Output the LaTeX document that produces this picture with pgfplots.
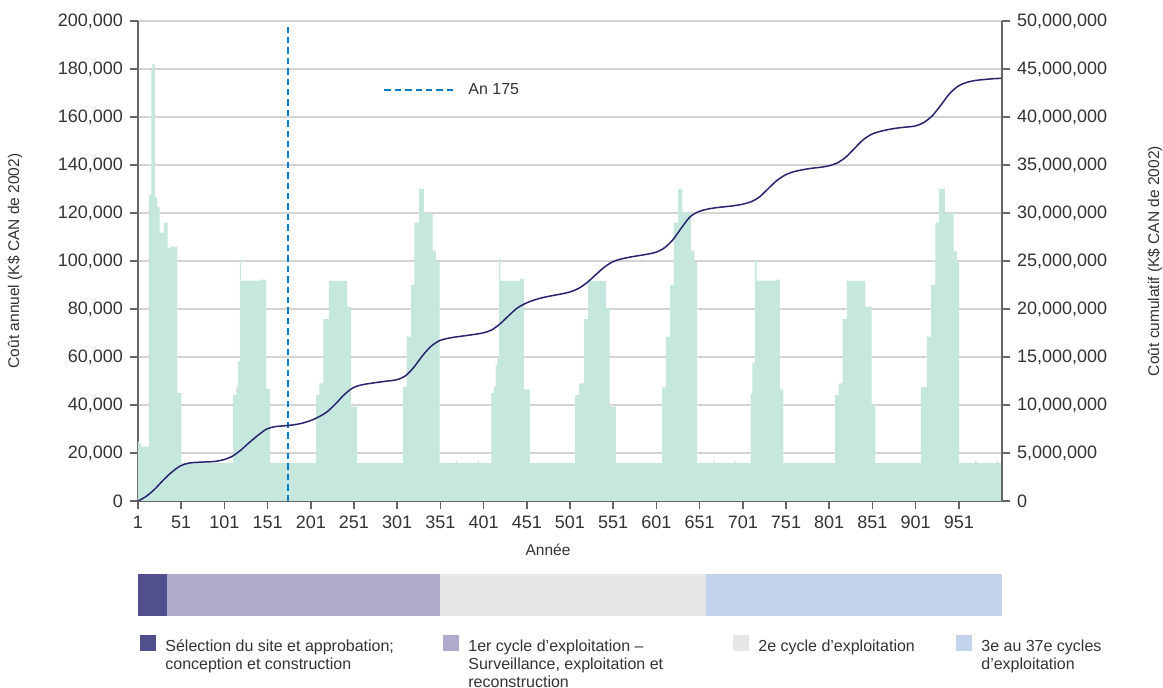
\documentclass[border=0pt]{standalone}
\usepackage{pgfplots}
\pgfplotsset{compat=1.18}
\usepackage{fontspec}
\setmainfont{Liberation Sans}
\definecolor{barc}{HTML}{C6E7DD}
\definecolor{cumc}{HTML}{27246E}
\definecolor{dashc}{HTML}{0B7DC8}
\definecolor{txt}{HTML}{333333}
\definecolor{axc}{HTML}{666666}
\definecolor{gridc}{HTML}{D4D4D4}
\definecolor{ph1}{HTML}{514F8E}
\definecolor{ph2}{HTML}{AEABCD}
\definecolor{ph3}{HTML}{E6E7E8}
\definecolor{ph4}{HTML}{C3D3EC}
\begin{document}
\begin{tikzpicture}
\useasboundingbox (-69pt,-93.5pt) rectangle (512.5pt,250.5pt);
\pgfplotsset{
  common/.style={
    width=432pt, height=240pt, scale only axis,
    xmin=1, xmax=1001,
    tick align=outside,
    major tick length=4pt,
    axis line style={axc, line width=0.75pt},
    tick style={axc, line width=0.75pt},
    ticklabel style={font=\fontsize{9}{10}\selectfont, text=txt},
    /pgf/number format/assume math mode=true,
    label style={font=\fontsize{7.75}{9}\selectfont, text=txt},
    scaled y ticks=false,
    yticklabel style={/pgf/number format/.cd, fixed, precision=0, 1000 sep={,}},
  }
}
\begin{axis}[common,
  at={(0pt,0pt)}, anchor=south west,
  ymin=0, ymax=200000,
  axis x line*=bottom, axis y line*=left,
  xtick={1,51,...,951},
  ytick={0,20000,...,200000},
  ymajorgrids, grid style={gridc, line width=0.8pt},
  xlabel={Année}, ylabel={Coût annuel (K\$ CAN de 2002)},
  xlabel style={at={(axis description cs:0.4745,-0.102)}, anchor=center},
  ylabel style={at={(axis description cs:-0.1424,0.5)}, anchor=center},
  legend style={at={(0.2836,0.856)}, anchor=west, draw=none, fill=none,
    inner sep=0pt, nodes={inner sep=0pt}, font=\fontsize{8}{9}\selectfont, text=txt,
    /tikz/every odd column/.append style={column sep=7pt}},
  legend image code/.code={\draw[#1] (0pt,0pt) -- (34.5pt,0pt);},
]
\addplot[const plot, fill=barc, draw=none, forget plot] coordinates {
(1,24700) (2.5,24000) (4,22600) (13.7,127500) (16.4,179500) (17.5,182000) (20.6,126800) (23.2,122600) (25.9,111800) (31.3,116000) (35.2,105300) (38.6,106000) (46.7,44900) (51.3,15800)
(111,44200) (115,47600) (117,58000) (119,100700) (120,91800) (142,92200) (149.5,46700) (154,15800)
(207,44200) (211,49000) (215.5,75800) (222,91700) (243,81000) (247.5,39300) (254.5,15800)
(307.6,47600) (312,68500) (317,90000) (321,116000) (326.5,130000) (332,119900) (342,104300) (346,99700) (350,15800)
(369,16800) (370.5,15800) (394,16800) (395.5,15800)
(410,44900) (413,47600) (415,56700) (417,59500) (419,101000) (420.5,91700) (443,92500) (448,46500) (454.5,15800)
(507,44200) (511.5,49000) (517,75800) (522,91700) (542.5,80500) (547,39300) (554,15800)
(607.5,47300) (612,68500) (617,90000) (621,116000) (626,130000) (631,120000) (641,104300) (645,99700) (648,15800)
(667,16800) (668.5,15800) (691,16800) (692.5,15800)
(710,44600) (712,57600) (715,100400) (717,91800) (739,92200) (744,46500) (748,15800)
(808,44000) (812,49000) (816.5,75800) (821.5,91700) (843,81000) (850,39900) (854.5,15800)
(907,47300) (914,68500) (919,90000) (924,116000) (928,130000) (935,120000) (945,104000) (949,99700) (951.5,15800)
(970,16800) (971.5,15800) (995,16800) (996.5,15800) (1001,15800)
} \closedcycle;
\addplot[dashc, line width=1pt, dash pattern=on 3.2pt off 2pt] coordinates {(175,0) (175,198300)};
\addlegendentry{An 175}
\end{axis}
\begin{axis}[common,
  at={(0pt,0pt)}, anchor=south west,
  ymin=0, ymax=50000000,
  axis y line*=right, axis x line=none,
  ytick={0,5000000,...,50000000},
  ylabel={Coût cumulatif (K\$ CAN de 2002)},
  ylabel style={at={(axis description cs:1.177,0.5)}, anchor=center, rotate=0},
]
\addplot[cumc, line width=0.75pt, smooth, tension=0.5] coordinates {
(1,0) (10,0.45e6) (20,1.2e6) (30,2.15e6) (40,3.0e6) (50,3.65e6) (60,3.95e6) (70,4.03e6) (80,4.07e6) (90,4.12e6)
(100,4.3e6) (110,4.65e6) (120,5.3e6) (130,6.1e6) (140,6.85e6) (150,7.5e6) (160,7.75e6) (170,7.83e6) (180,7.92e6) (190,8.08e6)
(200,8.35e6) (210,8.75e6) (220,9.3e6) (230,10.15e6) (240,11.1e6) (250,11.8e6) (260,12.1e6) (270,12.25e6) (280,12.38e6) (290,12.5e6)
(300,12.62e6) (310,13.0e6) (320,13.9e6) (330,15.1e6) (340,16.1e6) (350,16.7e6) (360,16.95e6) (370,17.1e6) (380,17.22e6) (390,17.35e6)
(400,17.5e6) (410,17.8e6) (420,18.45e6) (430,19.3e6) (440,20.1e6) (450,20.6e6) (460,20.95e6) (470,21.2e6) (480,21.38e6) (490,21.55e6)
(500,21.75e6) (510,22.1e6) (520,22.7e6) (530,23.5e6) (540,24.3e6) (550,24.9e6) (560,25.2e6) (570,25.4e6) (580,25.55e6) (590,25.7e6)
(600,25.9e6) (610,26.35e6) (620,27.2e6) (630,28.45e6) (640,29.6e6) (650,30.15e6) (660,30.4e6) (670,30.55e6) (680,30.65e6) (690,30.75e6)
(700,30.9e6) (710,31.15e6) (720,31.65e6) (730,32.5e6) (740,33.35e6) (750,33.95e6) (760,34.3e6) (770,34.5e6) (780,34.65e6) (790,34.75e6)
(800,34.9e6) (810,35.2e6) (820,35.8e6) (830,36.7e6) (840,37.6e6) (850,38.2e6) (860,38.5e6) (870,38.7e6) (880,38.85e6) (890,38.95e6)
(900,39.05e6) (910,39.4e6) (920,40.1e6) (930,41.2e6) (940,42.4e6) (950,43.2e6) (960,43.6e6) (970,43.8e6) (980,43.9e6) (990,43.98e6) (1000,44.03e6)
};
\end{axis}
\begin{axis}[
  at={(0pt,-57.5pt)}, anchor=south west,
  width=432pt, height=21pt, scale only axis,
  xmin=0, xmax=1000, ymin=-0.5, ymax=0.5,
  hide axis, xbar stacked, bar width=21pt,
  legend columns=4,
  legend style={at={(0.0023,-0.445)}, anchor=north west, draw=none, fill=none,
    inner sep=0pt, nodes={inner sep=0pt}, cells={anchor=base west},
    font=\fontsize{8}{9}\selectfont, text=txt,
    /tikz/every odd column/.append style={column sep=4.5pt}},
  legend image code/.code={\fill[#1] (0pt,0pt) rectangle (8pt,8pt);},
]
\addplot[fill=ph1, draw=none] coordinates {(33.6,0)};
\addlegendentry{\parbox[t]{139pt}{\fontsize{8}{9}\selectfont Sélection du site et approbation;\\conception et construction}}
\addplot[fill=ph2, draw=none] coordinates {(315.6,0)};
\addlegendentry{\parbox[t]{132.5pt}{\fontsize{8}{9}\selectfont 1er cycle d’exploitation –\\Surveillance, exploitation et\\reconstruction}}
\addplot[fill=ph3, draw=none] coordinates {(308.1,0)};
\addlegendentry{\parbox[t]{99pt}{\fontsize{8}{9}\selectfont 2e cycle d’exploitation}}
\addplot[fill=ph4, draw=none] coordinates {(342.7,0)};
\addlegendentry{\parbox[t]{80pt}{\fontsize{8}{9}\selectfont 3e au 37e cycles\\d’exploitation}}
\end{axis}
\end{tikzpicture}
\end{document}
